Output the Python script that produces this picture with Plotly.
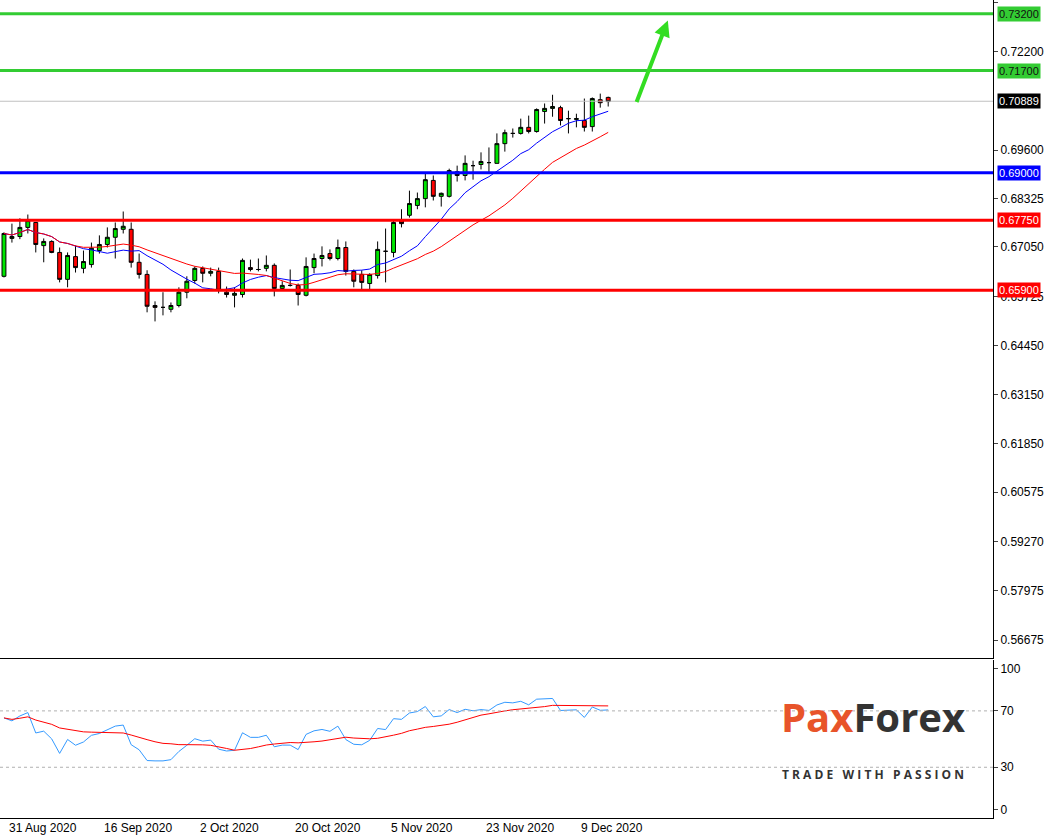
import plotly.graph_objects as go
import pandas as pd
import numpy as np

opens = [.6627,.6727,.6732,.6756,.6769,.6708,.6719,.6690,.6619,.6679,.6648,.6658,.6695,.6711,.6730,.6751,.6751,.6664,.6632,.6550,
         .6545,.6540,.6550,.6585,.6616,.6648,.6635,.6640,.6585,.6577,.6579,.6650,.6645,.6648,.6656,.6595,.6603,.6603,.6577,.6650,
         .6674,.6687,.6674,.6703,.6640,.6632,.6608,.6629,.6693,.6690,.6774,.6788,.6814,.6832,.6880,.6838,.6838,.6903,.6893,.6919,
         .6922,.6927,.6925,.6977,.7004,.7004,.7020,.7009,.7062,.7070,.7072,.7043,.7041,.7038,.7022,.7093,.7099]
highs = [.6743,.6766,.6780,.6790,.6769,.6727,.6722,.6703,.6690,.6708,.6695,.6716,.6735,.6756,.6769,.6798,.6769,.6687,.6643,.6561,
         .6585,.6558,.6598,.6627,.6653,.6653,.6650,.6650,.6600,.6598,.6674,.6671,.6674,.6682,.6661,.6614,.6645,.6608,.6677,.6687,
         .6706,.6698,.6724,.6719,.6645,.6643,.6635,.6719,.6753,.6774,.6804,.6853,.6848,.6898,.6893,.6848,.6911,.6919,.6946,.6932,
         .6954,.6967,.7004,.7014,.7017,.7043,.7051,.7070,.7083,.7106,.7077,.7064,.7056,.7096,.7099,.7109,.7101]
lows = [.6624,.6716,.6725,.6740,.6690,.6664,.6688,.6611,.6598,.6637,.6635,.6650,.6687,.6703,.6674,.6740,.6650,.6621,.6532,.6508,
        .6524,.6532,.6545,.6569,.6608,.6611,.6627,.6582,.6571,.6545,.6571,.6640,.6640,.6640,.6574,.6590,.6600,.6550,.6574,.6635,
        .6653,.6669,.6669,.6629,.6598,.6593,.6590,.6621,.6611,.6677,.6756,.6782,.6804,.6809,.6827,.6811,.6835,.6877,.6880,.6882,
        .6909,.6901,.6925,.6956,.6993,.7001,.7004,.7006,.7030,.7048,.7025,.7004,.7020,.7009,.7009,.7072,.7075]
closes = [.6740,.6732,.6756,.6774,.6711,.6719,.6690,.6619,.6682,.6650,.6666,.6701,.6711,.6730,.6753,.6759,.6664,.6632,.6548,.6545,
          .6545,.6550,.6585,.6614,.6648,.6635,.6640,.6590,.6579,.6582,.6669,.6645,.6645,.6656,.6595,.6603,.6603,.6579,.6653,.6674,
          .6682,.6674,.6703,.6640,.6614,.6611,.6632,.6698,.6693,.6769,.6766,.6819,.6832,.6882,.6838,.6846,.6906,.6893,.6925,.6919,
          .6930,.6927,.6977,.7006,.7004,.7020,.7009,.7067,.7070,.7075,.7038,.7043,.7043,.7020,.7096,.7085,.7088]

date_labels = ["31 Aug 2020", "16 Sep 2020", "2 Oct 2020", "20 Oct 2020", "5 Nov 2020", "23 Nov 2020", "9 Dec 2020"]
date_idx = [0, 12, 24, 36, 48, 60, 72]

green_levels = [0.7320, 0.7170]
blue_levels = [0.6900]
red_levels = [0.6775, 0.6590]
last_price = 0.70889

price_ticks = [0.7350, 0.7220, 0.6960, 0.68325, 0.6705, 0.65725, 0.6445, 0.6315, 0.6185, 0.60575, 0.5927, 0.57975, 0.56675]
rsi_ticks = [100, 70, 30, 0]

x = list(range(len(closes)))
c = pd.Series(closes)
ma_fast = c.rolling(10, min_periods=1).mean()
ma_slow = c.rolling(21, min_periods=1).mean()

# Wilder RSI(14), seeded so the first bars start near the level shown
ag, al = 0.0013, 0.0007
rsi = []
prev = closes[0]
for v in closes:
    dd = v - prev
    prev = v
    ag = (ag * 13 + max(dd, 0)) / 14
    al = (al * 13 + max(-dd, 0)) / 14
    rsi.append(100 - 100 / (1 + ag / al))
rsi = pd.Series(rsi)
rsi_ma = rsi.rolling(14, min_periods=1).mean()

fig = go.Figure()
fig.add_trace(go.Candlestick(x=x, open=opens, high=highs, low=lows, close=closes,
    increasing=dict(fillcolor="#00e600", line=dict(color="black", width=1)),
    decreasing=dict(fillcolor="#ff0000", line=dict(color="black", width=1)),
    whiskerwidth=0, showlegend=False))
fig.add_trace(go.Scatter(x=x, y=ma_fast, mode="lines", line=dict(color="#0000ff", width=1), showlegend=False))
fig.add_trace(go.Scatter(x=x, y=ma_slow, mode="lines", line=dict(color="#ff0000", width=1), showlegend=False))
fig.add_trace(go.Scatter(x=x, y=rsi, mode="lines", line=dict(color="#3399ff", width=1), showlegend=False, yaxis="y2", xaxis="x2"))
fig.add_trace(go.Scatter(x=x, y=rsi_ma, mode="lines", line=dict(color="#ff0000", width=1), showlegend=False, yaxis="y2", xaxis="x2"))

shapes = []
def hline(y, color, w, ref="y", dash="solid"):
    shapes.append(dict(type="line", xref="paper", x0=0, x1=1, yref=ref, y0=y, y1=y,
                       line=dict(color=color, width=w, dash=dash), layer="above"))
hline(last_price, "#c0c0c0", 1)
for v in green_levels: hline(v, "#33cc33", 3)
for v in blue_levels: hline(v, "#0000ff", 3)
for v in red_levels: hline(v, "#ff0000", 3)
hline(70, "#b0b0b0", 1, "y2", "dot")
hline(30, "#b0b0b0", 1, "y2", "dot")

ann = []
def tag(v, bg, fg):
    ann.append(dict(xref="paper", x=1.004, yref="y", y=v, text=f"{v:.5f}", showarrow=False, xanchor="left",
                    bgcolor=bg, font=dict(color=fg, size=11, family="Liberation Sans"), borderpad=1))
for v in green_levels: tag(v, "#33cc33", "#111111")
for v in blue_levels: tag(v, "#0000ff", "white")
for v in red_levels: tag(v, "#ff0000", "white")
tag(last_price, "#000000", "white")

for i, lab in zip(date_idx, date_labels):
    ann.append(dict(xref="x2", x=i, yref="paper", y=0, yshift=-1, xshift=3, text=lab, showarrow=False, xanchor="left",
                    yanchor="top", font=dict(size=12, color="#000", family="Liberation Sans")))

ann.append(dict(x=83.5, y=0.7302, ax=79.5, ay=0.7083, xref="x", yref="y", axref="x", ayref="y",
                showarrow=True, arrowhead=2, arrowsize=0.8, arrowwidth=4, arrowcolor="#33dd22", text=""))

ann.append(dict(xref="paper", yref="paper", x=0.879, y=0.088, showarrow=False, xanchor="center",
                text="<b><span style='color:#e8542a'>Pa</span><span style='color:#e8542a'>x</span><span style='color:#333'>Forex</span></b>",
                font=dict(size=40, family="Open Sans")))
ann.append(dict(xref="paper", yref="paper", x=0.879, y=0.04, showarrow=False, xanchor="center",
                text="<b>T R A D E   W I T H   P A S S I O N</b>",
                font=dict(size=12, color="#333", family="Open Sans")))

fig.update_layout(
    width=1056, height=836, margin=dict(l=0, r=63, t=0, b=18),
    paper_bgcolor="white", plot_bgcolor="white", shapes=shapes, annotations=ann,
    xaxis=dict(domain=[0, 1], range=[-0.5, 124.4], showgrid=False, showticklabels=False, zeroline=False,
               rangeslider=dict(visible=False), showline=True, linecolor="black", anchor="y"),
    yaxis=dict(domain=[0.1956, 1], range=[0.5620, 0.7356], side="right", tickvals=price_ticks,
               tickformat=".5f", showgrid=False, zeroline=False, showline=True, linecolor="black",
               ticks="outside", ticklen=4, tickfont=dict(size=12, family="Liberation Sans", color="#000")),
    xaxis2=dict(domain=[0, 1], range=[-0.5, 124.4], showgrid=False, showticklabels=False, zeroline=False,
                showline=True, linecolor="black", anchor="y2"),
    yaxis2=dict(domain=[0, 0.193], range=[-6, 106], side="right", tickvals=rsi_ticks, showgrid=False,
                zeroline=False, showline=True, linecolor="black", ticks="outside", ticklen=4,
                tickfont=dict(size=12, family="Liberation Sans", color="#000"), anchor="x2"),
)
fig.write_html("out.html", config={"displayModeBar": False},
               post_script="document.body.style.margin='0';document.body.style.overflow='hidden';")
